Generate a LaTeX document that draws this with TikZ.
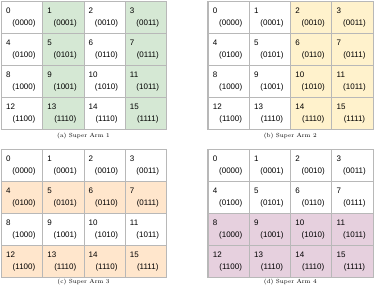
\documentclass[tikz,border=0pt]{standalone}
\usepackage{fontspec}
\newfontfamily\cellfont{Liberation Sans}
\definecolor{cgreen}{HTML}{D5E8D4}
\definecolor{cyellow}{HTML}{FFF2CC}
\definecolor{corange}{HTML}{FFE6CC}
\definecolor{cpink}{HTML}{E6D0DE}
\definecolor{gridgray}{HTML}{B8B8B8}
\newcommand\binlabel[1]{\ifcase#1 0000\or 0001\or 0010\or 0011\or 0100\or 0101\or 0110\or 0111\or 1000\or 1001\or 1010\or 1011\or 1100\or 1110\or 1110\or 1111\fi}
\begin{document}
\begin{tikzpicture}[x=1pt,y=-1pt,
  cell/.style={draw=gridgray, line width=0.5pt, minimum width=41.25pt, minimum height=32pt, inner sep=0pt, anchor=north west},
  num/.style={font=\cellfont\fontsize{8}{9}\selectfont, anchor=west, inner sep=0pt},
  bin/.style={font=\cellfont\fontsize{8}{9}\selectfont, anchor=center, inner sep=0pt},
  frame/.style={draw=gridgray, line width=0.9pt},
  caption/.style={font=\fontsize{5.9}{7}\selectfont, inner sep=0pt}]
\useasboundingbox (0,0) rectangle (374,292);
\foreach \g/\gx/\gy/\colr/\cond in {1/1/1/cgreen/{mod(\c,2)}, 2/207.7/1/cyellow/{\c>1}, 3/1/149/corange/{mod(\r,2)}, 4/207.7/149/cpink/{\r>1}}{
  \foreach \r in {0,...,3}{
    \foreach \c in {0,...,3}{
      \pgfmathtruncatemacro\idx{4*\r+\c}
      \pgfmathtruncatemacro\on{\cond}
      \ifnum\on=1 \def\fc{\colr}\else\def\fc{white}\fi
      \pgfmathsetmacro\xx{\gx+41.25*\c}
      \pgfmathsetmacro\yy{\gy+32*\r}
      \node[cell, fill=\fc] (g\g c\idx) at (\xx,\yy) {};
      \node[num] (g\g n\idx) at (\xx+5,\yy+10) {\idx};
      \node[bin] (g\g b\idx) at (\xx+23,\yy+22) {(\binlabel{\idx})};
    }
  }
  \draw[frame] (g\g c0.north west) rectangle (g\g c15.south east);
}
\node[caption] (capa) at (83.5,136) {(a) Super Arm 1};
\node[caption] (capb) at (290.2,136) {(b) Super Arm 2};
\node[caption] (capc) at (83.5,282) {(c) Super Arm 3};
\node[caption] (capd) at (290.2,282) {(d) Super Arm 4};
\end{tikzpicture}
\end{document}
